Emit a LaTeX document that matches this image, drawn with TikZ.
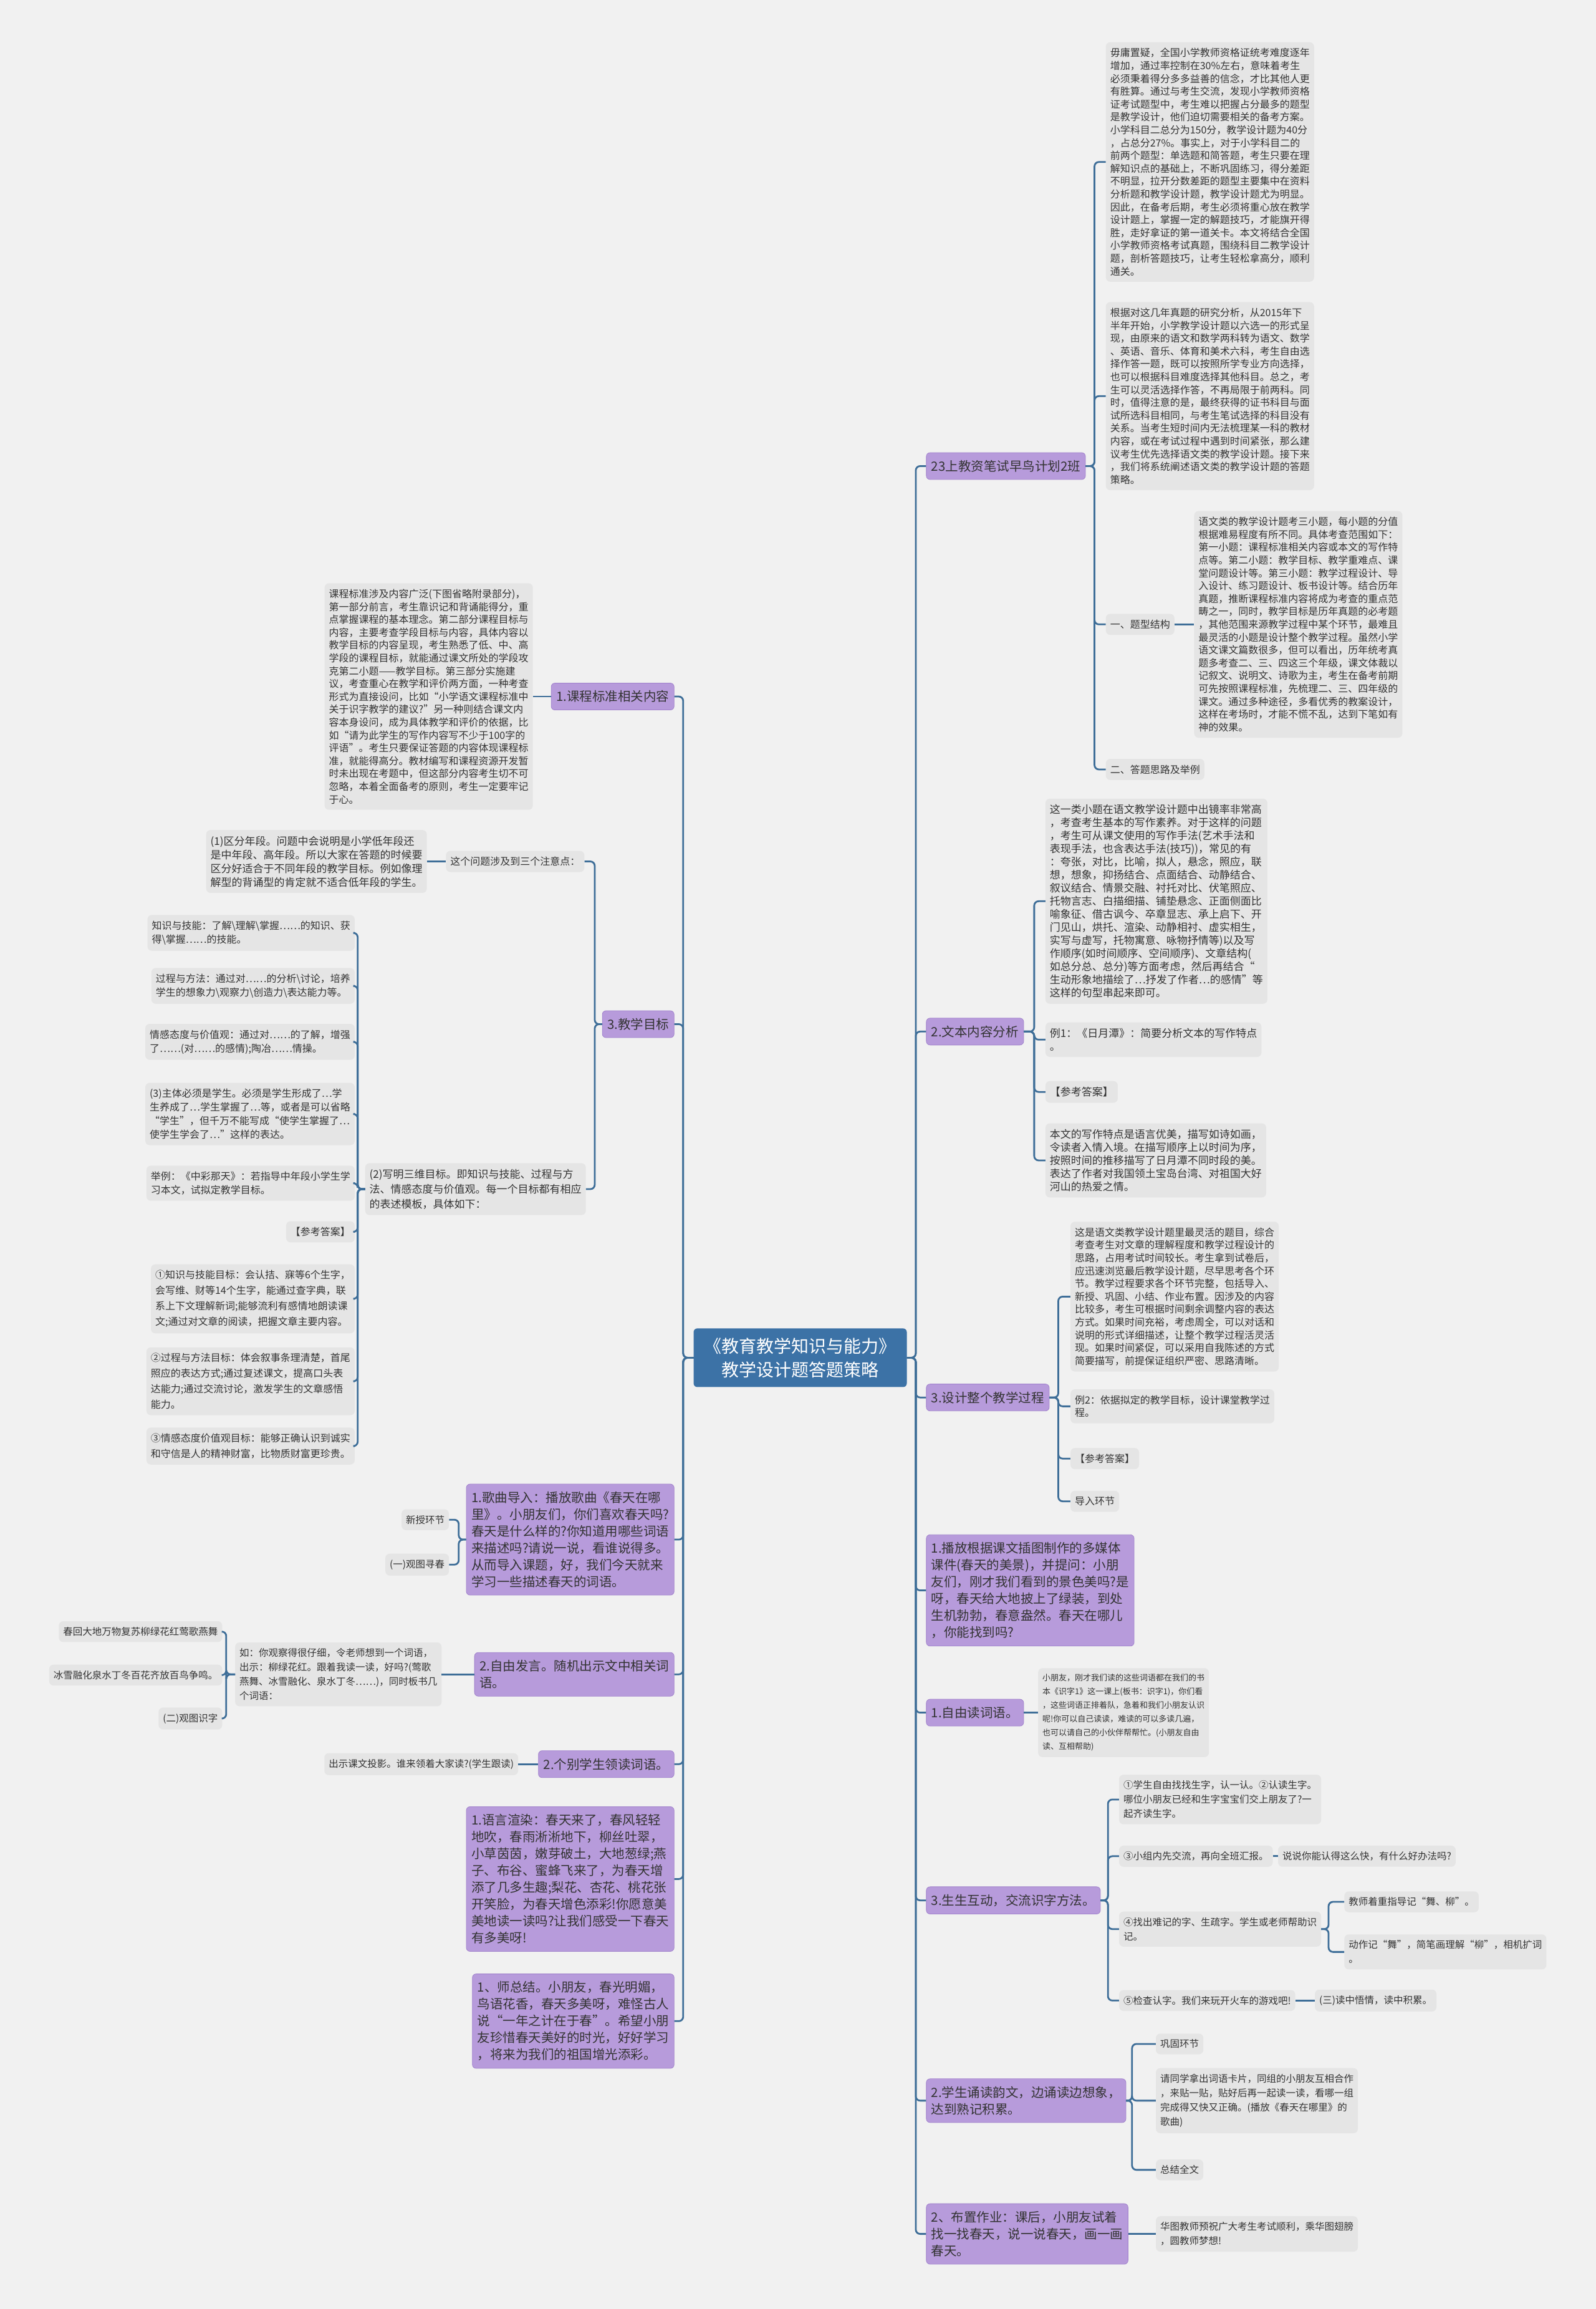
\documentclass[tikz,border=0pt]{standalone}
\usepackage{fontspec}
\usepackage{xcolor}
\usepackage{tikz}
\newfontfamily\zhfont{Noto Sans CJK SC}
\definecolor{paperbg}{HTML}{F1F1F1}
\definecolor{rootblue}{HTML}{3C72A6}
\definecolor{topicfill}{HTML}{B79BDB}
\definecolor{topicline}{HTML}{A182CC}
\definecolor{notefill}{HTML}{E5E5E5}
\definecolor{linkblue}{HTML}{3E6E98}
\definecolor{inktext}{HTML}{333333}
\newcommand{\rootfont}{\zhfont\fontsize{28}{38}\selectfont}
\newcommand{\topicfont}{\zhfont\fontsize{20.5}{27}\selectfont}
\newcommand{\notefont}{\zhfont\fontsize{16}{20.6}\selectfont}
\newcommand{\notebig}{\zhfont\fontsize{17}{21}\selectfont}
\newcommand{\notemid}{\zhfont\fontsize{15.5}{23}\selectfont}
\newcommand{\notetall}{\zhfont\fontsize{16}{25}\selectfont}
\newcommand{\notetiny}{\zhfont\fontsize{13}{22}\selectfont}

\begin{document}
\begin{tikzpicture}[x=2.3616pt,y=-2.3616pt,
  root/.style={fill=rootblue,text=white,rounded corners=6pt,align=center,
    inner xsep=17pt,inner ysep=15pt,font=\rootfont},
  topic/.style={fill=topicfill,draw=topicline,line width=0.8pt,rounded corners=6pt,
    text=inktext,align=left,inner xsep=8pt,inner ysep=12pt,font=\topicfont},
  note/.style={fill=notefill,rounded corners=7pt,text=inktext,align=left,
    inner xsep=7pt,inner ysep=9.5pt,font=\notefont},
  link/.style={draw=linkblue,line width=2.8pt,rounded corners=7pt}]
\useasboundingbox (0,0) rectangle (1084,1568);
\fill[paperbg] (0,0) rectangle (1084,1568);

\node[root] (root) at (543.5,922) {《教育教学知识与能力》\\教学设计题答题策略};

% right side
\node[topic,anchor=west] (r0) at (629,316.5) {23上教资笔试早鸟计划2班};
\node[note,anchor=west] (r0a) at (751,110) {毋庸置疑，全国小学教师资格证统考难度逐年\\增加，通过率控制在30\%左右，意味着考生\\必须秉着得分多多益善的信念，才比其他人更\\有胜算。通过与考生交流，发现小学教师资格\\证考试题型中，考生难以把握占分最多的题型\\是教学设计，他们迫切需要相关的备考方案。\\小学科目二总分为150分，教学设计题为40分\\，占总分27\%。事实上，对于小学科目二的\\前两个题型：单选题和简答题，考生只要在理\\解知识点的基础上，不断巩固练习，得分差距\\不明显，拉开分数差距的题型主要集中在资料\\分析题和教学设计题，教学设计题尤为明显。\\因此，在备考后期，考生必须将重心放在教学\\设计题上，掌握一定的解题技巧，才能旗开得\\胜，走好拿证的第一道关卡。本文将结合全国\\小学教师资格考试真题，围绕科目二教学设计\\题，剖析答题技巧，让考生轻松拿高分，顺利\\通关。};
\node[note,anchor=west] (r0b) at (751,269) {根据对这几年真题的研究分析，从2015年下\\半年开始，小学教学设计题以六选一的形式呈\\现，由原来的语文和数学两科转为语文、数学\\、英语、音乐、体育和美术六科，考生自由选\\择作答一题，既可以按照所学专业方向选择，\\也可以根据科目难度选择其他科目。总之，考\\生可以灵活选择作答，不再局限于前两科。同\\时，值得注意的是，最终获得的证书科目与面\\试所选科目相同，与考生笔试选择的科目没有\\关系。当考生短时间内无法梳理某一科的教材\\内容，或在考试过程中遇到时间紧张，那么建\\议考生优先选择语文类的教学设计题。接下来\\，我们将系统阐述语文类的教学设计题的答题\\策略。};
\node[note,anchor=west] (r0c) at (751,424) {一、题型结构};
\node[note,anchor=west] (r0c1) at (811,424) {语文类的教学设计题考三小题，每小题的分值\\根据难易程度有所不同。具体考查范围如下：\\第一小题：课程标准相关内容或本文的写作特\\点等。第二小题：教学目标、教学重难点、课\\堂问题设计等。第三小题：教学过程设计、导\\入设计、练习题设计、板书设计等。结合历年\\真题，推断课程标准内容将成为考查的重点范\\畴之一，同时，教学目标是历年真题的必考题\\，其他范围来源教学过程中某个环节，最难且\\最灵活的小题是设计整个教学过程。虽然小学\\语文课文篇数很多，但可以看出，历年统考真\\题多考查二、三、四这三个年级，课文体裁以\\记叙文、说明文、诗歌为主，考生在备考前期\\可先按照课程标准，先梳理二、三、四年级的\\课文。通过多种途径，多看优秀的教案设计，\\这样在考场时，才能不慌不乱，达到下笔如有\\神的效果。};
\node[note,anchor=west] (r0d) at (751,522.5) {二、答题思路及举例};

\node[topic,anchor=west] (r1) at (629,700.5) {2.文本内容分析};
\node[note,anchor=west,font=\notebig] (r1a) at (710,612) {这一类小题在语文教学设计题中出镜率非常高\\，考查考生基本的写作素养。对于这样的问题\\，考生可从课文使用的写作手法(艺术手法和\\表现手法，也含表达手法(技巧))，常见的有\\：夸张，对比，比喻，拟人，悬念，照应，联\\想，想象，抑扬结合、点面结合、动静结合、\\叙议结合、情景交融、衬托对比、伏笔照应、\\托物言志、白描细描、铺垫悬念、正面侧面比\\喻象征、借古讽今、卒章显志、承上启下、开\\门见山，烘托、渲染、动静相衬、虚实相生，\\实写与虚写，托物寓意、咏物抒情等)以及写\\作顺序(如时间顺序、空间顺序)、文章结构(\\如总分总、总分)等方面考虑，然后再结合“\\生动形象地描绘了…抒发了作者…的感情”等\\这样的句型串起来即可。};
\node[note,anchor=west,font=\notebig] (r1b) at (710,706) {例1：《日月潭》：简要分析文本的写作特点\\。};
\node[note,anchor=west,font=\notebig] (r1c) at (710,741.5) {【参考答案】};
\node[note,anchor=west,font=\notebig] (r1d) at (710,788) {本文的写作特点是语言优美，描写如诗如画，\\令读者入情入境。在描写顺序上以时间为序，\\按照时间的推移描写了日月潭不同时段的美。\\表达了作者对我国领土宝岛台湾、对祖国大好\\河山的热爱之情。};

\node[topic,anchor=west] (r2) at (629,949) {3.设计整个教学过程};
\node[note,anchor=west] (r2a) at (727,880.5) {这是语文类教学设计题里最灵活的题目，综合\\考查考生对文章的理解程度和教学过程设计的\\思路，占用考试时间较长。考生拿到试卷后，\\应迅速浏览最后教学设计题，尽早思考各个环\\节。教学过程要求各个环节完整，包括导入、\\新授、巩固、小结、作业布置。因涉及的内容\\比较多，考生可根据时间剩余调整内容的表达\\方式。如果时间充裕，考虑周全，可以对话和\\说明的形式详细描述，让整个教学过程活灵活\\现。如果时间紧促，可以采用自我陈述的方式\\简要描写，前提保证组织严密、思路清晰。};
\node[note,anchor=west] (r2b) at (727,955) {例2：依据拟定的教学目标，设计课堂教学过\\程。};
\node[note,anchor=west] (r2c) at (727,990.5) {【参考答案】};
\node[note,anchor=west] (r2d) at (727,1019.5) {导入环节};

\node[topic,anchor=west] (r3) at (629,1080) {1.播放根据课文插图制作的多媒体\\课件(春天的美景)，并提问：小朋\\友们，刚才我们看到的景色美吗?是\\呀，春天给大地披上了绿装，到处\\生机勃勃，春意盎然。春天在哪儿\\，你能找到吗?};

\node[topic,anchor=west] (r4) at (629,1163) {1.自由读词语。};
\node[note,anchor=west,font=\notetiny] (r4a) at (705,1163) {小朋友，刚才我们读的这些词语都在我们的书\\本《识字1》这一课上(板书：识字1)，你们看\\，这些词语正排着队，急着和我们小朋友认识\\呢!你可以自己读读，难读的可以多读几遍，\\也可以请自己的小伙伴帮帮忙。(小朋友自由\\读、互相帮助)};

\node[topic,anchor=west] (r5) at (629,1290.5) {3.生生互动，交流识字方法。};
\node[note,anchor=west,font=\notemid] (r5a) at (760,1222) {①学生自由找找生字，认一认。②认读生字。\\哪位小朋友已经和生字宝宝们交上朋友了?一\\起齐读生字。};
\node[note,anchor=west,font=\notemid] (r5b) at (760,1260.5) {③小组内先交流，再向全班汇报。};
\node[note,anchor=west,font=\notemid] (r5b1) at (868,1260.5) {说说你能认得这么快，有什么好办法吗?};
\node[note,anchor=west,font=\notemid] (r5c) at (760,1310) {④找出难记的字、生疏字。学生或老师帮助识\\记。};
\node[note,anchor=west,font=\notemid] (r5c1) at (913,1291.5) {教师着重指导记“舞、柳”。};
\node[note,anchor=west,font=\notemid] (r5c2) at (913,1325.5) {动作记“舞”，简笔画理解“柳”，相机扩词\\。};
\node[note,anchor=west,font=\notemid] (r5d) at (760,1358.5) {⑤检查认字。我们来玩开火车的游戏吧!};
\node[note,anchor=west,font=\notemid] (r5d1) at (893,1358.5) {(三)读中悟情，读中积累。};

\node[topic,anchor=west] (r6) at (629,1426.5) {2.学生诵读韵文，边诵读边想象，\\达到熟记积累。};
\node[note,anchor=west,font=\notemid] (r6a) at (785,1388) {巩固环节};
\node[note,anchor=west,font=\notemid] (r6b) at (785,1426.5) {请同学拿出词语卡片，同组的小朋友互相合作\\，来贴一贴，贴好后再一起读一读，看哪一组\\完成得又快又正确。(播放《春天在哪里》的\\歌曲)};
\node[note,anchor=west,font=\notemid] (r6c) at (785,1473.5) {总结全文};

\node[topic,anchor=west] (r7) at (629,1517) {2、布置作业：课后，小朋友试着\\找一找春天，说一说春天，画一画\\春天。};
\node[note,anchor=west,font=\notemid] (r7a) at (785,1517) {华图教师预祝广大考生考试顺利，乘华图翅膀\\，圆教师梦想!};

% left side
\node[topic,anchor=east] (l1) at (458,473) {1.课程标准相关内容};
\node[note,anchor=east] (l1a) at (362,473) {课程标准涉及内容广泛(下图省略附录部分)，\\第一部分前言，考生靠识记和背诵能得分，重\\点掌握课程的基本理念。第二部分课程目标与\\内容，主要考查学段目标与内容，具体内容以\\教学目标的内容呈现，考生熟悉了低、中、高\\学段的课程目标，就能通过课文所处的学段攻\\克第二小题——教学目标。第三部分实施建\\议，考查重心在教学和评价两方面，一种考查\\形式为直接设问，比如“小学语文课程标准中\\关于识字教学的建议?”另一种则结合课文内\\容本身设问，成为具体教学和评价的依据，比\\如“请为此学生的写作内容写不少于100字的\\评语”。考生只要保证答题的内容体现课程标\\准，就能得高分。教材编写和课程资源开发暂\\时未出现在考题中，但这部分内容考生切不可\\忽略，本着全面备考的原则，考生一定要牢记\\于心。};

\node[topic,anchor=east] (l2) at (458,695.5) {3.教学目标};
\node[note,anchor=east] (l2a) at (397,585) {这个问题涉及到三个注意点：};
\node[note,anchor=east,font=\zhfont\fontsize{17}{22}\selectfont] (l2a1) at (290,585) {(1)区分年段。问题中会说明是小学低年段还\\是中年段、高年段。所以大家在答题的时候要\\区分好适合于不同年段的教学目标。例如像理\\解型的背诵型的肯定就不适合低年段的学生。};
\node[note,anchor=east,font=\zhfont\fontsize{17}{24}\selectfont] (l2b) at (398,807.5) {(2)写明三维目标。即知识与技能、过程与方\\法、情感态度与价值观。每一个目标都有相应\\的表述模板，具体如下：};
\node[note,anchor=east,font=\zhfont\fontsize{16}{22}\selectfont] (n1) at (241,633.5) {知识与技能：了解\textbackslash{}理解\textbackslash{}掌握……的知识、获\\得\textbackslash{}掌握……的技能。};
\node[note,anchor=east,font=\zhfont\fontsize{16}{22}\selectfont] (n2) at (241,669.5) {过程与方法：通过对……的分析\textbackslash{}讨论，培养\\学生的想象力\textbackslash{}观察力\textbackslash{}创造力\textbackslash{}表达能力等。};
\node[note,anchor=east,font=\zhfont\fontsize{16}{22}\selectfont] (n3) at (241,707.5) {情感态度与价值观：通过对……的了解，增强\\了……(对……的感情);陶冶……情操。};
\node[note,anchor=east,font=\zhfont\fontsize{16}{22}\selectfont] (n4) at (241,756.5) {(3)主体必须是学生。必须是学生形成了…学\\生养成了…学生掌握了…等，或者是可以省略\\“学生”，但千万不能写成“使学生掌握了…\\使学生学会了…”这样的表达。};
\node[note,anchor=east,font=\zhfont\fontsize{16}{22}\selectfont] (n5) at (241,803.5) {举例：《中彩那天》：若指导中年段小学生学\\习本文，试拟定教学目标。};
\node[note,anchor=east] (n6) at (241,836.5) {【参考答案】};
\node[note,anchor=east,font=\notetall] (n7) at (241,882) {①知识与技能目标：会认拮、寐等6个生字，\\会写维、财等14个生字，能通过查字典，联\\系上下文理解新词;能够流利有感情地朗读课\\文;通过对文章的阅读，把握文章主要内容。};
\node[note,anchor=east,font=\notetall] (n8) at (241,938) {②过程与方法目标：体会叙事条理清楚，首尾\\照应的表达方式;通过复述课文，提高口头表\\达能力;通过交流讨论，激发学生的文章感悟\\能力。};
\node[note,anchor=east,font=\notetall] (n9) at (241,982) {③情感态度价值观目标：能够正确认识到诚实\\和守信是人的精神财富，比物质财富更珍贵。};

\node[topic,anchor=east] (l3) at (458,1045.5) {1.歌曲导入：播放歌曲《春天在哪\\里》。小朋友们，你们喜欢春天吗?\\春天是什么样的?你知道用哪些词语\\来描述吗?请说一说，看谁说得多。\\从而导入课题，好，我们今天就来\\学习一些描述春天的词语。};
\node[note,anchor=east,font=\notemid] (l3a) at (305,1032) {新授环节};
\node[note,anchor=east,font=\notemid] (l3b) at (305,1062.5) {(一)观图寻春};

\node[topic,anchor=east] (l4) at (458,1137) {2.自由发言。随机出示文中相关词\\语。};
\node[note,anchor=east,font=\notemid] (l4a) at (300,1137) {如：你观察得很仔细，令老师想到一个词语，\\出示：柳绿花红。跟着我读一读，好吗?(莺歌\\燕舞、冰雪融化、泉水丁冬……)，同时板书几\\个词语：};
\node[note,anchor=east,font=\notemid] (l4a1) at (151,1108) {春回大地万物复苏柳绿花红莺歌燕舞};
\node[note,anchor=east,font=\notemid] (l4a2) at (151,1137.5) {冰雪融化泉水丁冬百花齐放百鸟争鸣。};
\node[note,anchor=east,font=\notemid] (l4a3) at (151,1167) {(二)观图识字};

\node[topic,anchor=east] (l5) at (458,1198) {2.个别学生领读词语。};
\node[note,anchor=east,font=\notemid] (l5a) at (352,1198) {出示课文投影。谁来领着大家读?(学生跟读)};

\node[topic,anchor=east] (l6) at (458,1276) {1.语言渲染：春天来了，春风轻轻\\地吹，春雨淅淅地下，柳丝吐翠，\\小草茵茵，嫩芽破土，大地葱绿;燕\\子、布谷、蜜蜂飞来了，为春天增\\添了几多生趣;梨花、杏花、桃花张\\开笑脸，为春天增色添彩!你愿意美\\美地读一读吗?让我们感受一下春天\\有多美呀!};
\node[topic,anchor=east] (l7) at (458,1372.5) {1、师总结。小朋友，春光明媚，\\鸟语花香，春天多美呀，难怪古人\\说“一年之计在于春”。希望小朋\\友珍惜春天美好的时光，好好学习\\，将来为我们的祖国增光添彩。};

% connectors
\draw[link] (root.east) -- ++(6,0) |- (r0.west);
\draw[link] (root.east) -- ++(6,0) |- (r1.west);
\draw[link] (root.east) -- ++(6,0) |- (r2.west);
\draw[link] (root.east) -- ++(6,0) |- (r3.west);
\draw[link] (root.east) -- ++(6,0) |- (r4.west);
\draw[link] (root.east) -- ++(6,0) |- (r5.west);
\draw[link] (root.east) -- ++(6,0) |- (r6.west);
\draw[link] (root.east) -- ++(6,0) |- (r7.west);
\draw[link] (root.west) -- ++(-7,0) |- (l1.east);
\draw[link] (root.west) -- ++(-7,0) |- (l2.east);
\draw[link] (root.west) -- ++(-7,0) |- (l3.east);
\draw[link] (root.west) -- ++(-7,0) |- (l4.east);
\draw[link] (root.west) -- ++(-7,0) |- (l5.east);
\draw[link] (root.west) -- ++(-7,0) |- (l6.east);
\draw[link] (root.west) -- ++(-7,0) |- (l7.east);

\draw[link] (r0.east) -- ++(6,0) |- (r0a.west);
\draw[link] (r0.east) -- ++(6,0) |- (r0b.west);
\draw[link] (r0.east) -- ++(6,0) |- (r0c.west);
\draw[link] (r0.east) -- ++(6,0) |- (r0d.west);
\draw[link] (r0c.east) -- (r0c1.west);
\draw[link] (r1.east) -- ++(7,0) |- (r1a.west);
\draw[link] (r1.east) -- ++(7,0) |- (r1b.west);
\draw[link] (r1.east) -- ++(7,0) |- (r1c.west);
\draw[link] (r1.east) -- ++(7,0) |- (r1d.west);
\draw[link] (r2.east) -- ++(6,0) |- (r2a.west);
\draw[link] (r2.east) -- ++(6,0) |- (r2b.west);
\draw[link] (r2.east) -- ++(6,0) |- (r2c.west);
\draw[link] (r2.east) -- ++(6,0) |- (r2d.west);
\draw[link] (r4.east) -- (r4a.west);
\draw[link] (r5.east) -- ++(5,0) |- (r5a.west);
\draw[link] (r5.east) -- ++(5,0) |- (r5b.west);
\draw[link] (r5.east) -- ++(5,0) |- (r5c.west);
\draw[link] (r5.east) -- ++(5,0) |- (r5d.west);
\draw[link] (r5b.east) -- (r5b1.west);
\draw[link] (r5c.east) -- ++(5,0) |- (r5c1.west);
\draw[link] (r5c.east) -- ++(5,0) |- (r5c2.west);
\draw[link] (r5d.east) -- (r5d1.west);
\draw[link] (r6.east) -- ++(4,0) |- (r6a.west);
\draw[link] (r6.east) -- ++(4,0) |- (r6b.west);
\draw[link] (r6.east) -- ++(4,0) |- (r6c.west);
\draw[link] (r7.east) -- (r7a.west);

\draw[link] (l1.west) -- (l1a.east);
\draw[link] (l2.west) -- ++(-5,0) |- (l2a.east);
\draw[link] (l2.west) -- ++(-5,0) |- (l2b.east);
\draw[link] (l2a.west) -- (l2a1.east);
\draw[link] (l2b.west) -- ++(-5,0) |- (n1.east);
\draw[link] (l2b.west) -- ++(-5,0) |- (n2.east);
\draw[link] (l2b.west) -- ++(-5,0) |- (n3.east);
\draw[link] (l2b.west) -- ++(-5,0) |- (n4.east);
\draw[link] (l2b.west) -- ++(-5,0) |- (n5.east);
\draw[link] (l2b.west) -- ++(-5,0) |- (n6.east);
\draw[link] (l2b.west) -- ++(-5,0) |- (n7.east);
\draw[link] (l2b.west) -- ++(-5,0) |- (n8.east);
\draw[link] (l2b.west) -- ++(-5,0) |- (n9.east);
\draw[link] (l3.west) -- ++(-5,0) |- (l3a.east);
\draw[link] (l3.west) -- ++(-5,0) |- (l3b.east);
\draw[link] (l4.west) -- (l4a.east);
\draw[link] (l4a.west) -- ++(-6,0) |- (l4a1.east);
\draw[link] (l4a.west) -- ++(-6,0) |- (l4a2.east);
\draw[link] (l4a.west) -- ++(-6,0) |- (l4a3.east);
\draw[link] (l5.west) -- (l5a.east);
\end{tikzpicture}
\end{document}
